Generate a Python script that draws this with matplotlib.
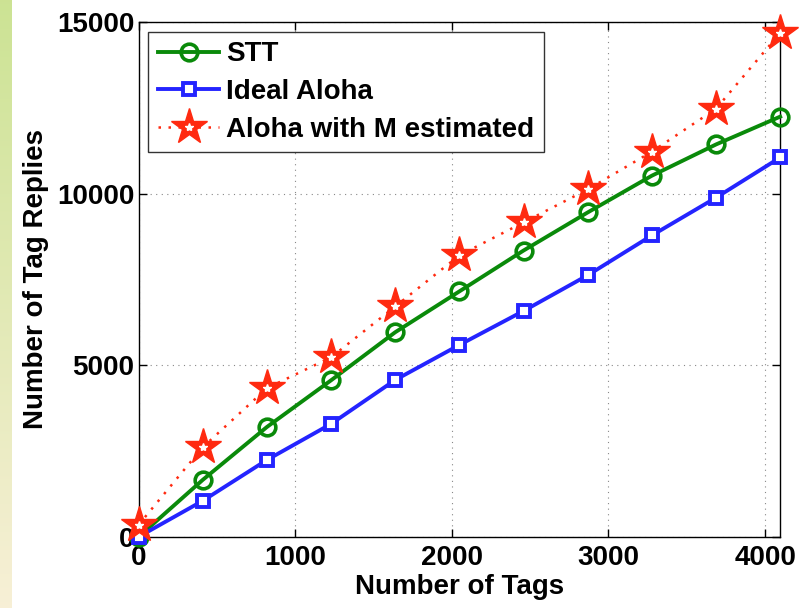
import numpy as np
import matplotlib.pyplot as plt
from matplotlib.legend_handler import HandlerTuple

plt.rcParams['font.family'] = ['Liberation Sans', 'DejaVu Sans']
plt.rcParams['font.weight'] = 'bold'

# number of tags (4096 split in 10 steps)
tags = [0, 409.6, 819.2, 1228.8, 1638.4, 2048, 2457.6, 2867.2, 3276.8, 3686.4, 4096]
stt = [0, 1660, 3200, 4560, 5960, 7150, 8340, 9450, 10520, 11430, 12240]
ideal_aloha = [0, 1050, 2240, 3290, 4570, 5590, 6580, 7620, 8780, 9880, 11050]
aloha_m = [350, 2610, 4330, 5230, 6710, 8200, 9160, 10120, 11220, 12470, 14680]

fig = plt.figure(figsize=(8.01, 6.08), dpi=100)

# side strip, green fading to cream
strip = fig.add_axes([0, 0, 0.014, 1])
grad = np.linspace(0, 1, 256).reshape(-1, 1)
top = np.array([0.80, 0.89, 0.58])
bot = np.array([0.97, 0.94, 0.84])
img = top[None, None, :] * (1 - grad[:, :, None]) + bot[None, None, :] * grad[:, :, None]
strip.imshow(img, aspect='auto')
strip.axis('off')

ax = fig.add_axes([0.173, 0.117, 0.801, 0.847])

l1, = ax.plot(tags, stt, color='#0a8a0a', lw=2.8, marker='o', ms=12,
              mfc='none', mec='#0a8a0a', mew=2.6, clip_on=False, zorder=4)
l2, = ax.plot(tags, ideal_aloha, color='#2424ff', lw=2.8, marker='s', ms=9,
              mfc='white', mec='#2424ff', mew=2.8, clip_on=False, zorder=4)
l3, = ax.plot(tags, aloha_m, color='#ff2a10', lw=1.8, ls=(0, (1, 3)), marker='*',
              ms=27, mfc='#ff2a10', mec='#ff2a10', clip_on=False, zorder=5)
l3b, = ax.plot(tags, aloha_m, ls='none', marker='*', ms=6, mfc='white',
               mec='white', clip_on=False, zorder=6)

ax.set_xlim(0, 4096)
ax.set_ylim(0, 15000)
ax.set_xticks([0, 1000, 2000, 3000, 4000])
ax.set_yticks([0, 5000, 10000, 15000])
ax.grid(True, color='#888888', ls=(0, (1, 4)), lw=0.8)
ax.tick_params(direction='in', top=True, right=True, labelsize=20, length=6,
               width=1)
ax.tick_params(axis='x', pad=6)
ax.tick_params(axis='y', pad=3)
for s in ax.spines.values():
    s.set_linewidth(1.0)

ax.set_xlabel('Number of Tags', fontsize=20, fontweight='bold', labelpad=2)
ax.set_ylabel('Number of Tag Replies', fontsize=20, fontweight='bold', labelpad=6)

leg = ax.legend([l1, l2, (l3, l3b)], ['STT', 'Ideal Aloha', 'Aloha with M estimated'],
                handler_map={tuple: HandlerTuple(ndivide=1)},
                loc='upper left', fontsize=20, fancybox=False, edgecolor='#333333',
                framealpha=1, borderaxespad=0.35, handlelength=2.2,
                handletextpad=0.25, labelspacing=0.42, borderpad=0.35)
leg.get_frame().set_linewidth(1.0)

fig.savefig('out.png', dpi=100)
